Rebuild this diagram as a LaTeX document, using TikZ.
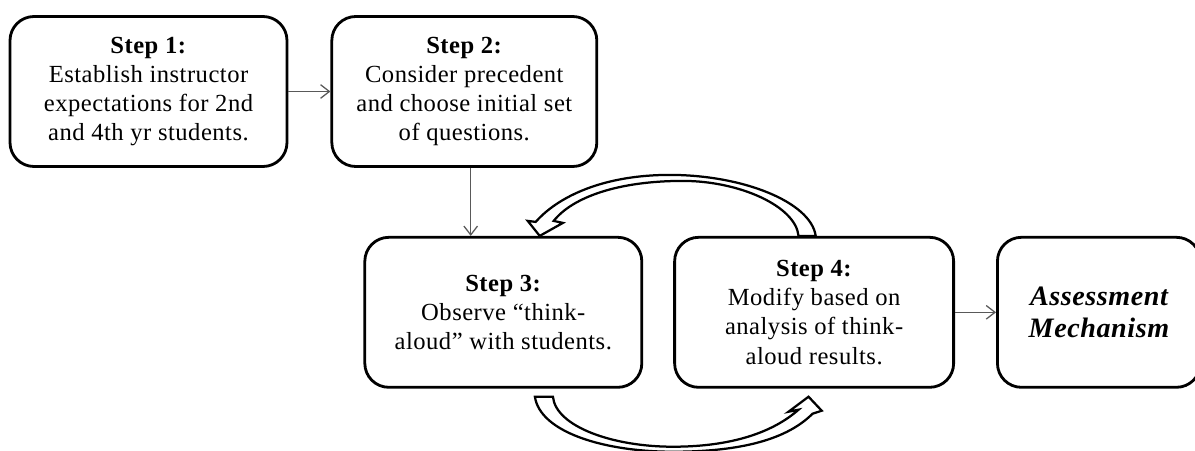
\documentclass[tikz,border=0pt]{standalone}
\usepackage{fontspec}
\setmainfont[LetterSpace=2]{Liberation Serif}
\usepackage{tikz}
\usetikzlibrary{arrows.meta,positioning,calc}
\definecolor{arrowgray}{gray}{0.35}

\begin{document}
\begin{tikzpicture}[
  stepbox/.style={rectangle, rounded corners=0.6cm, draw=black, line width=2pt, fill=white, minimum height=3.75cm, align=center, font=\fontsize{17.5}{20.8}\selectfont},
  arrow/.style={-{Straight Barb[length=2.2mm, width=3.4mm]}, line width=0.9pt, draw=arrowgray},
  bendarrow/.style={draw=black, line width=1.6pt, fill=white, line join=miter}
]
\useasboundingbox (0,0) rectangle (29.875,11.25);
\node[stepbox, minimum width=6.925cm] (s1) at (3.7125,8.9625) {\textbf{Step 1:}\\Establish instructor\\expectations for 2nd\\and 4th yr students.};
\node[stepbox, minimum width=6.625cm, right=1.05cm of s1] (s2) {\textbf{Step 2:}\\Consider precedent\\and choose initial set\\of questions.};
\node[stepbox, minimum width=6.925cm, below=1.7cm of s2, xshift=0.975cm] (s3) {\textbf{Step 3:}\\Observe “think-\\aloud” with students.};
\node[stepbox, minimum width=6.975cm, right=0.75cm of s3] (s4) {\textbf{Step 4:}\\Modify based on\\analysis of think-\\aloud results.};
\node[stepbox, minimum width=5.075cm, right=1.025cm of s4, font=\fontsize{20}{22.5}\selectfont\bfseries\itshape] (am) {Assessment\\Mechanism};
\draw[arrow] (s1) -- (s2);
\draw[arrow] ([xshift=0.16cm]s2.south) -- ([xshift=0.16cm]s2.south |- s3.north);
\draw[arrow] (s4) -- (am);
\draw[bendarrow] ([xshift=0.04cm]s4.north)
  .. controls +(-0.125,0.85) and +(1.825,0) .. ($(s3.north)+(4.16,1.525)$)
  .. controls +(-1.675,0) and +(0.55,0.625) .. ($(s3.north)+(0.81,0.35)$)
  -- ($(s3.north)+(0.61,0.375)$)
  -- ($(s3.north)+(0.91,0)$)
  -- ($(s3.north)+(1.49,0.325)$)
  -- ($(s3.north)+(1.26,0.375)$)
  .. controls +(0.475,0.6) and +(-1.6,0) .. ($(s3.north)+(4.49,1.375)$)
  .. controls +(1.4,0) and +(-0.075,0.75) .. ([xshift=-0.39cm]s4.north)
  -- cycle;
\draw[bendarrow] ($(s3.south)+(0.79,-0.2)$)
  .. controls +(0.125,-0.875) and +(-1.75,0) .. ($(s3.south)+(4.24,-1.575)$)
  .. controls +(1.75,0) and +(-0.625,-0.625) .. ($(s4.south)+(-0.04,-0.625)$)
  -- ($(s4.south)+(0.19,-0.55)$)
  -- ($(s4.south)+(-0.14,-0.2)$)
  -- ($(s4.south)+(-0.64,-0.575)$)
  -- ($(s4.south)+(-0.39,-0.525)$)
  .. controls +(-0.625,-0.55) and +(1.5,0) .. ($(s3.south)+(4.24,-1.45)$)
  .. controls +(-1.5,0) and +(0.075,-0.75) .. ($(s3.south)+(1.24,-0.2)$)
  -- cycle;
\end{tikzpicture}
\end{document}
